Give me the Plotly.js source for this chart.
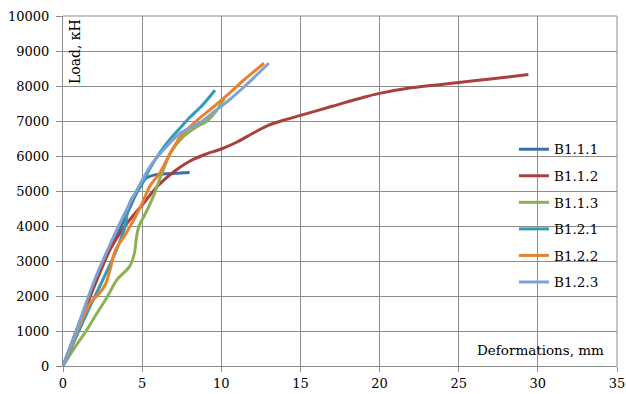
<!DOCTYPE html>
<html>
<head>
<meta charset="utf-8">
<script src="https://cdn.plot.ly/plotly-3.0.1.min.js"></script>
<style>html,body{margin:0;padding:0;background:#fff;}#chart{width:626px;height:394px;}</style>
</head>
<body>
<div id="chart"></div>
<script>
// Series names
const seriesNames = ["B1.1.1", "B1.1.2", "B1.1.3", "B1.2.1", "B1.2.2", "B1.2.3"];

// Deformations, mm (x) and Load, kN (y)
const b111_x = [0, 1, 2, 3, 4, 4.6, 5.2, 5.8, 6.5, 7.2, 8.0];
const b111_y = [0, 1200, 2400, 3400, 4300, 4900, 5350, 5460, 5490, 5510, 5530];

const b112_x = [0, 1, 2, 3, 4, 5, 6, 7, 8, 9, 10, 11, 12, 13, 14, 15, 17, 19, 20, 22, 25, 27, 29.4];
const b112_y = [0, 1150, 2300, 3350, 4050, 4600, 5150, 5550, 5850, 6050, 6200, 6400, 6650, 6880, 7030, 7160, 7420, 7680, 7790, 7950, 8100, 8200, 8330];

const b113_x = [0, 0.7, 1.5, 2.0, 2.8, 3.4, 4.2, 4.5, 4.65, 4.8, 5.2, 5.7, 6.2, 6.8, 7.6, 8.5, 9.1, 9.7, 10.2];
const b113_y = [0, 500, 1030, 1400, 1980, 2460, 2840, 3200, 3700, 4000, 4350, 4840, 5450, 6100, 6550, 6850, 7000, 7300, 7650];

const b121_x = [0, 1, 1.7, 2.4, 3.0, 3.5, 3.9, 4.1, 4.3, 4.9, 5.5, 6.2, 6.8, 7.5, 8.0, 8.8, 9.6];
const b121_y = [0, 1000, 1700, 2350, 2930, 3450, 3950, 4450, 4750, 5120, 5650, 6150, 6500, 6850, 7100, 7450, 7880];

const b122_x = [0, 0.5, 1.0, 1.7, 2.3, 2.7, 3.0, 3.3, 4.0, 4.9, 5.5, 6.1, 6.8, 7.5, 8.5, 9.5, 10.5, 11.5, 12.7];
const b122_y = [0, 550, 1100, 1790, 2080, 2350, 2800, 3300, 3800, 4550, 5150, 5500, 6100, 6600, 7030, 7400, 7790, 8200, 8650];

const b123_x = [0, 1, 1.9, 2.8, 4.0, 4.9, 5.5, 6.2, 7.4, 8.65, 9.5, 10.5, 11.5, 13.0];
const b123_y = [0, 1200, 2350, 3300, 4450, 5220, 5700, 6100, 6650, 6950, 7250, 7600, 8000, 8650];

const xTicks = [0, 5, 10, 15, 20, 25, 30, 35];
const yTicks = [0, 1000, 2000, 3000, 4000, 5000, 6000, 7000, 8000, 9000, 10000];

const colors = ["#3C6EA8", "#A8413E", "#8BB154", "#2F9DB3", "#E9822F", "#7FA2D3"];

const xs = [b111_x, b112_x, b113_x, b121_x, b122_x, b123_x];
const ys = [b111_y, b112_y, b113_y, b121_y, b122_y, b123_y];

const font = "DejaVu Serif";

const traces = seriesNames.map((name, i) => ({
  type: "scatter",
  mode: "lines",
  name: name,
  x: xs[i],
  y: ys[i],
  legendgroup: name,
  line: {color: colors[i], width: 3, shape: "spline", smoothing: 0.8}
}));

const gridColor = "#8C8C8C";

const layout = {
  width: 626,
  height: 394,
  margin: {l: 63, r: 9, t: 16, b: 28},
  paper_bgcolor: "#ffffff",
  plot_bgcolor: "#ffffff",
  font: {family: font, size: 13, color: "#000"},
  showlegend: true,
  legend: {
    x: 0.814, y: 0.663, xanchor: "left", yanchor: "top",
    bgcolor: "rgba(0,0,0,0)",
    font: {family: font, size: 13.5, color: "#000"},
    traceorder: "grouped",
    tracegroupgap: 6,
    itemwidth: 30
  },
  xaxis: {
    range: [0, 35],
    tickvals: xTicks,
    ticktext: xTicks.map(String),
    showgrid: true, gridcolor: gridColor, gridwidth: 1,
    showline: true, linecolor: gridColor, linewidth: 1,
    mirror: false,
    zeroline: false,
    ticks: "outside", ticklen: 5, tickcolor: gridColor,
    tickfont: {family: font, size: 13, color: "#000"},
    fixedrange: true
  },
  yaxis: {
    range: [0, 10000],
    tickvals: yTicks,
    ticktext: yTicks.map(String),
    showgrid: true, gridcolor: gridColor, gridwidth: 1,
    showline: true, linecolor: gridColor, linewidth: 1,
    zeroline: false,
    ticks: "outside", ticklen: 6, tickcolor: gridColor,
    ticklabelstandoff: 4,
    tickfont: {family: font, size: 13, color: "#000"},
    fixedrange: true
  },
  shapes: [
    {type: "line", xref: "paper", yref: "paper", x0: 1, x1: 1, y0: 0, y1: 1, line: {color: gridColor, width: 1}},
    {type: "line", xref: "paper", yref: "paper", x0: 0, x1: 1, y0: 1, y1: 1, line: {color: gridColor, width: 1}}
  ],
  annotations: [
    {text: "Load, кН", xref: "paper", yref: "paper", x: 0.0217, y: 0.897,
     xanchor: "center", yanchor: "middle", textangle: -90, showarrow: false,
     font: {family: font, size: 14, color: "#000"}},
    {text: "Deformations, mm", xref: "paper", yref: "paper", x: 0.98, y: 0.046,
     xanchor: "right", yanchor: "middle", showarrow: false,
     font: {family: font, size: 13.5, color: "#000"}}
  ]
};

Plotly.newPlot("chart", traces, layout, {displayModeBar: false, staticPlot: true});
</script>
</body>
</html>
